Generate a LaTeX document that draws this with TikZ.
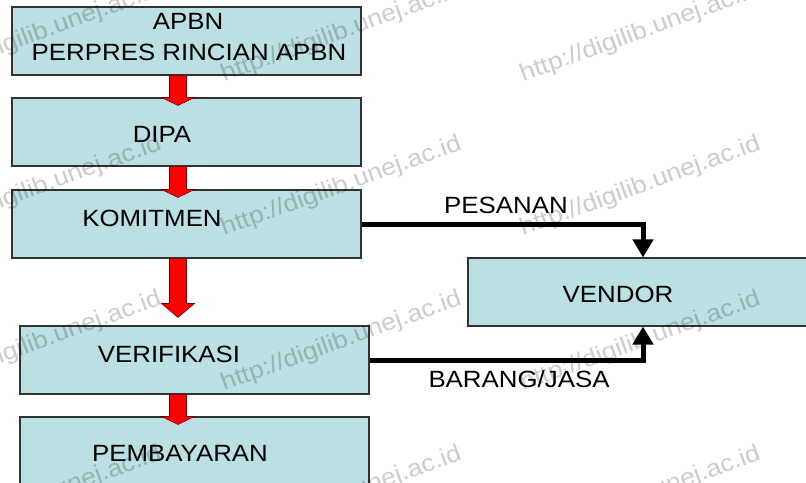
\documentclass[tikz,border=0pt]{standalone}
\usepackage{fontspec}
\setmainfont[FakeStretch=1.1]{Liberation Sans}
\usetikzlibrary{arrows.meta,calc}

\definecolor{boxfill}{RGB}{187,224,227}
\definecolor{boxline}{RGB}{50,50,50}

\tikzset{
  box/.style={draw=boxline, line width=1.1pt, fill=boxfill, rectangle, inner sep=0pt},
  lbl/.style={anchor=base, inner sep=0pt, font=\fontsize{23.5}{28}\selectfont},
  redblock/.style={fill=red, draw=red!45!black, line width=0.6pt, line join=miter},
  flow/.style={line width=5pt, line join=miter, -{Triangle[width=20pt,length=18pt]}},
  wmark/.style={anchor=base east, inner sep=0pt, rotate=20, opacity=0.2,
                font=\fontsize{24}{28}\selectfont}
}

% block arrow from the bottom of #1 to the top of #2;
% #3 = tip offset below the top of #2, #4 = head length
\newcommand{\flowarrow}[4]{%
  \coordinate (fa-tip) at ($(ax |- #2.north)+(0,#3)$);
  \coordinate (fa-top) at (ax |- #1.south);
  \filldraw[redblock] ($(fa-top)+(-8.5,0)$) -- ($(fa-tip)+(-8.5,-#4)$)
    -- ($(fa-tip)+(-16.5,-#4)$) -- (fa-tip) -- ($(fa-tip)+(16.5,-#4)$)
    -- ($(fa-tip)+(8.5,-#4)$) -- ($(fa-top)+(8.5,0)$) -- cycle;}

\begin{document}
\begin{tikzpicture}[x=1pt,y=-1pt]
  \clip (0,0) rectangle (806,482);
  \fill[white] (0,0) rectangle (806,482);

  % axis of the red block arrows and of the vendor connectors
  \coordinate (ax) at (178,0);
  \coordinate (vx) at (643,0);

  % boxes
  \node[box, minimum width=349pt, minimum height=68pt] (apbn) at (186.5,41) {};
  \node[box, minimum width=349pt, minimum height=68pt] (dipa) at (186.5,132) {};
  \node[box, minimum width=349pt, minimum height=68pt] (kom)  at (186.5,224) {};
  \node[box, minimum width=349pt, minimum height=68pt] (ver)  at (194.5,360) {};
  \node[box, minimum width=349pt, minimum height=90pt] (pem)  at (194.5,462) {};
  \node[box, minimum width=352pt, minimum height=68pt] (ven)  at (644,292) {};

  % texts
  \node[lbl] (t-apbn) at (188,29) {APBN};
  \node[lbl] (t-perpres) at (189,60) {PERPRES RINCIAN APBN};
  \node[lbl] (t-dipa) at (162,142) {DIPA};
  \node[lbl] (t-kom) at (152,226) {KOMITMEN};
  \node[lbl] (t-ver) at (169,362) {VERIFIKASI};
  \node[lbl] (t-pem) at (180,461) {PEMBAYARAN};
  \node[lbl] (t-ven) at (618,302) {VENDOR};
  \node[lbl] (t-pes) at (506,213) {PESANAN};
  \node[lbl] (t-bar) at (519,387) {BARANG/JASA};

  % red block arrows
  \flowarrow{apbn}{dipa}{8}{8}
  \flowarrow{dipa}{kom}{8}{8}
  \flowarrow{kom}{ver}{-8}{14}
  \flowarrow{ver}{pem}{8}{8}

  % connectors to the vendor
  \draw[flow] (kom.east) -- (kom.east -| vx) -- (ven.north -| vx);
  \draw[flow] (ver.east) -- (ver.east -| vx) -- (ven.south -| vx);

  % repeated watermark
  \foreach \wx in {163,463,762}{
    \foreach \wy in {-5,149,304,459}{
      \node[wmark] at (\wx,\wy) {http://digilib.unej.ac.id};
    }
  }
\end{tikzpicture}
\end{document}
